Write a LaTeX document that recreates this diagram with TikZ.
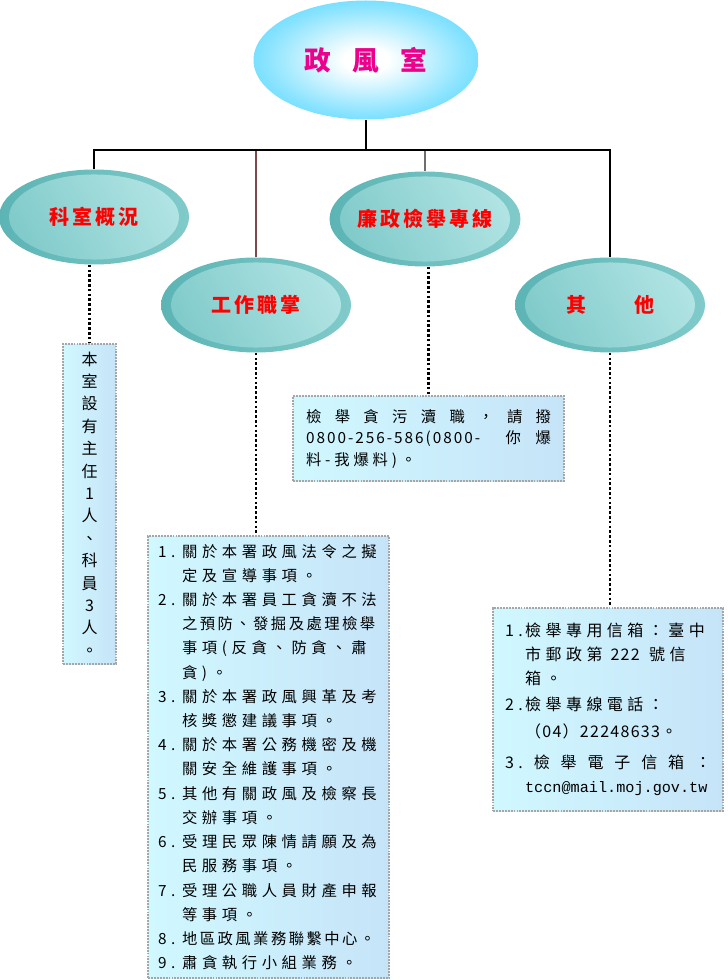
\documentclass[tikz,border=0pt]{standalone}
\usepackage{fontspec}
\setmainfont{Noto Sans CJK TC}
\newfontfamily\monofont{Liberation Mono}
\usetikzlibrary{shapes.geometric, positioning, calc}

\definecolor{glowA}{RGB}{255,255,255}
\definecolor{glowB}{RGB}{140,228,255}
\definecolor{glowC}{RGB}{45,208,255}
\definecolor{glowD}{RGB}{20,198,250}
\definecolor{tealDk}{RGB}{92,180,180}
\definecolor{tealMd}{RGB}{128,202,202}
\definecolor{tealLt}{RGB}{178,228,228}
\definecolor{boxL}{RGB}{208,248,255}
\definecolor{boxR}{RGB}{198,228,248}
\definecolor{dropBrown}{RGB}{128,72,72}
\definecolor{dropGray}{RGB}{110,110,110}
\pgfdeclareradialshading{cyanglow}{\pgfpoint{0bp}{0bp}}{color(0bp)=(glowA); color(5bp)=(glowA); color(22bp)=(glowB); color(38bp)=(glowC); color(47bp)=(glowC); color(50bp)=(glowD); color(75bp)=(glowD)}

\newcommand{\numlbl}[2][18pt]{\makebox[#1][l]{#2}}
\newcommand{\contind}[1][18pt]{\hspace*{#1}}

\begin{document}
\begin{tikzpicture}[x=0.75pt, y=-0.75pt,
    glowball/.style={ellipse, shading=cyanglow, minimum width=168.75pt, minimum height=89.25pt, inner sep=0pt, text=magenta, font=\fontsize{20pt}{20pt}\selectfont\bfseries},
    tealball/.style={ellipse, minimum width=142.5pt, minimum height=71.25pt, inner sep=0pt,
        left color=tealDk, right color=tealMd,
        path picture={\shade[left color=tealMd, right color=tealLt, shading angle=120] (path picture bounding box.center) ellipse [x radius=63.75pt, y radius=31.9pt];},
        text=red, font=\fontsize{15pt}{15pt}\selectfont\bfseries\addfontfeature{LetterSpace=15}},
    infobox/.style={draw=gray!70, line width=1.6pt, dash pattern=on 1.4pt off 0.8pt, left color=boxL, right color=boxR, inner ysep=0pt, anchor=north west},
    treeline/.style={line width=0.8pt},
    dotlink/.style={line width=2pt, dash pattern=on 2pt off 1.6pt}
]
    \useasboundingbox (0,0) rectangle (727,980);

    % Top office
    \node[glowball] (zfs) at (366,60) {政\hspace{16pt}風\hspace{16pt}室};

    % Four topics
    \node[tealball] (kszk) at (94,217) {科室概況};
    \node[tealball] (gzzz) at (256,305) {工作職掌};
    \node[tealball] (lzjb) at (425,219) {廉政檢舉專線};
    \node[tealball] (qita) at (610,305) {其\hspace{36pt}他};

    % Tree lines
    \coordinate (bar) at (366,150);
    \draw[treeline, dropBrown] (bar) -| (gzzz.north);
    \draw[treeline, dropGray] (bar) -| (lzjb.north);
    \draw[treeline] (zfs.south) -- (bar);
    \draw[treeline] (bar) -| (kszk.north);
    \draw[treeline] (bar) -| (qita.north);

    % Staff box
    \node[infobox, minimum width=39.75pt, minimum height=240pt, inner xsep=0pt, text width=39.75pt, align=center,
          font=\fontsize{12pt}{16.8pt}\selectfont] (sbox) at (62,343)
        {本\\室\\設\\有\\主\\任\\1\\人\\、\\科\\員\\3\\人\\。};

    % Hotline box
    \node[infobox, minimum height=63.75pt, inner xsep=9.75pt, text width=183.75pt, align=left,
          font=\fontsize{11.5pt}{16.1pt}\selectfont\addfontfeature{LetterSpace=25}] (jbox) at (292,395)
        {\makebox[183.75pt][s]{檢\hfill 舉\hfill 貪\hfill 污\hfill 瀆\hfill 職\hfill ，\hfill 請\hfill 撥}\\
         {\addfontfeature{LetterSpace=13}\makebox[183.75pt][s]{0800-256-586(0800-\hspace{8pt}\hfill 你\hfill 爆}}\\
         料-我爆料)。};

    % Duty box
    \node[infobox, minimum height=331.5pt, inner xsep=7.5pt, text width=165.75pt, align=left,
          font=\fontsize{11.5pt}{18.15pt}\selectfont\addfontfeature{LetterSpace=30}] (dbox) at (147,535)
        {\numlbl{1.}關於本署政風法令之擬\\
         \contind 定及宣導事項。\\
         \numlbl{2.}關於本署員工貪瀆不法\\
         \contind{\addfontfeature{LetterSpace=16}之預防、發掘及處理檢舉}\\
         \contind 事項(反貪、防貪、肅\\
         \contind 貪)。\\
         \numlbl{3.}關於本署政風興革及考\\
         \contind 核獎懲建議事項。\\
         \numlbl{4.}關於本署公務機密及機\\
         \contind 關安全維護事項。\\
         \numlbl{5.}其他有關政風及檢察長\\
         \contind 交辦事項。\\
         \numlbl{6.}受理民眾陳情請願及為\\
         \contind 民服務事項。\\
         \numlbl{7.}受理公職人員財產申報\\
         \contind 等事項。\\
         \numlbl{8.}{\addfontfeature{LetterSpace=16}地區政風業務聯繫中心。}\\
         \numlbl{9.}肅貪執行小組業務。};

    % Other box
    \node[infobox, minimum height=152.25pt, inner xsep=9pt, text width=154.5pt, align=left,
          font=\fontsize{12pt}{18pt}\selectfont\addfontfeature{LetterSpace=28}] (obox) at (492,607)
        {\numlbl[15pt]{1.}檢舉專用信箱：臺中\\
         \contind[15pt]市郵政第\hspace{6pt}{\addfontfeature{LetterSpace=8}222}\hspace{7pt}號信\\
         \contind[15pt]箱。\\[1.5pt]
         \numlbl[15pt]{2.}檢舉專線電話：\\[2.25pt]
         \contind[15pt]{\addfontfeature{LetterSpace=8}（04）22248633。}\\[5.25pt]
         \makebox[154.5pt][s]{3.\hfill 檢\hfill 舉\hfill 電\hfill 子\hfill 信\hfill 箱\hfill ：}\\
         \contind[15pt]{\monofont\fontsize{11.4pt}{18pt}\selectfont tccn@mail.moj.gov.tw}};

    % Dotted links
    \draw[dotlink] (kszk.south -| sbox.north) -- (sbox.north);
    \draw[dotlink] (gzzz.south) -- (gzzz.south |- dbox.north);
    \draw[dotlink] (lzjb.south -| jbox.north) -- (jbox.north);
    \draw[dotlink] (qita.south) -- (qita.south |- obox.north);
\end{tikzpicture}
\end{document}
